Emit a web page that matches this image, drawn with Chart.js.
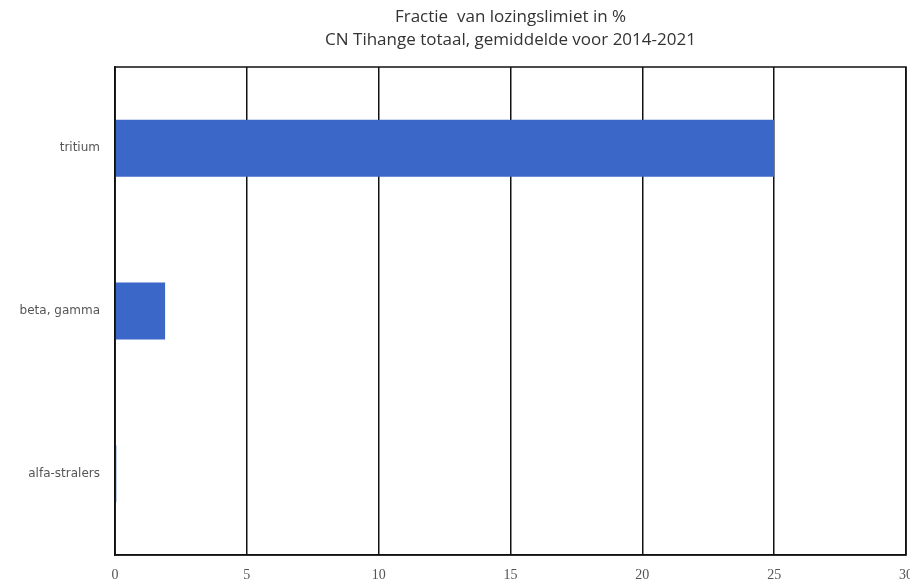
<!DOCTYPE html>
<html>
<head>
<meta charset="utf-8">
<script src="https://cdn.jsdelivr.net/npm/chart.js@4/dist/chart.umd.min.js"></script>
<style>
  html, body { margin: 0; padding: 0; background: #fff; }
  #wrap { width: 910px; height: 584px; position: relative; }
</style>
</head>
<body>
<div id="wrap"><canvas id="chart"></canvas></div>
<script>
// ── Data ──
const categories = ["tritium", "beta, gamma", "alfa-stralers"];
const values = [25, 1.9, 0.05];
const xTicks = [0, 5, 10, 15, 20, 25, 30];
const titleLines = ["Fractie  van lozingslimiet in %", "CN Tihange totaal, gemiddelde voor 2014-2021"];

// ── Frame + title around the plot area ──
const framePlugin = {
  id: "frame",
  afterDraw(chart) {
    const { ctx, chartArea: a } = chart;
    ctx.save();
    ctx.strokeStyle = "#111";
    ctx.lineWidth = 1.5;
    ctx.strokeRect(a.left, a.top, a.right - a.left, a.bottom - a.top);

    ctx.fillStyle = "#333";
    ctx.font = "17px 'Open Sans', sans-serif";
    ctx.textAlign = "center";
    ctx.textBaseline = "middle";
    const cx = (a.left + a.right) / 2;
    ctx.fillText(titleLines[0], cx, 17);
    ctx.fillText(titleLines[1], cx, 40);
    ctx.restore();
  }
};

const ctx = document.getElementById("chart").getContext("2d");

new Chart(ctx, {
  type: "bar",
  data: {
    labels: categories,
    datasets: [{
      data: values,
      backgroundColor: "#3b67c9",
      borderWidth: 0,
      barPercentage: 0.35,
      categoryPercentage: 1.0
    }]
  },
  options: {
    indexAxis: "y",
    responsive: true,
    maintainAspectRatio: false,
    animation: false,
    layout: { padding: { top: 67, right: 4, left: 0, bottom: 0 } },
    plugins: {
      legend: { display: false },
      title: { display: false },
      tooltip: { enabled: false }
    },
    scales: {
      x: {
        min: 0,
        max: 30,
        afterBuildTicks: (axis) => { axis.ticks = xTicks.map(v => ({ value: v })); },
        afterFit: (axis) => { axis.paddingRight = 0; axis.paddingLeft = 0; axis.height = 29; },
        grid: { color: "#111", lineWidth: 1.5, drawTicks: false },
        border: { color: "#111", width: 1.5 },
        ticks: {
          padding: 12,
          color: "#555",
          font: { family: "'Liberation Serif', serif", size: 14 }
        }
      },
      y: {
        afterFit: (axis) => { axis.width = 115; },
        grid: { display: false, drawTicks: false },
        border: { color: "#111", width: 1.5 },
        ticks: {
          padding: 15,
          color: "#555",
          font: { family: "'DejaVu Sans', sans-serif", size: 12 }
        }
      }
    }
  },
  plugins: [framePlugin]
});
</script>
</body>
</html>
